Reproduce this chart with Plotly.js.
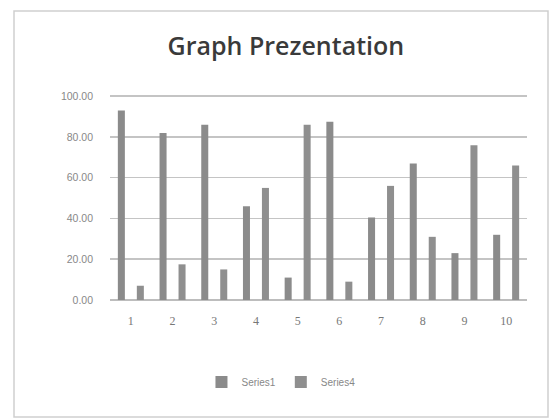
<!DOCTYPE html>
<html>
<head>
<meta charset="utf-8">
<script src="https://cdn.plot.ly/plotly-3.0.1.min.js"></script>
<style>
html,body{margin:0;padding:0;background:#fff;}
#chart{width:554px;height:419px;}
</style>
</head>
<body>
<div id="chart"></div>
<script>
var categories = ["1","2","3","4","5","6","7","8","9","10"];
var series1 = [93, 82, 86, 46, 11, 87.5, 40.5, 67, 23, 32];
var series4 = [7, 17.5, 15, 55, 86, 9, 56, 31, 76, 66];
var yTicks = [0, 20, 40, 60, 80, 100];
var yTickLabels = ["0.00", "20.00", "40.00", "60.00", "80.00", "100.00"];

var traces = [
  {type: "bar", name: "Series1", x: categories, y: series1, marker: {color: "#8b8b8b"}},
  {type: "bar", name: "Series4", x: categories, y: series4, marker: {color: "#8f8f8f"}}
];

var layout = {
  width: 554, height: 419,
  margin: {l: 110, r: 27, t: 95, b: 119},
  paper_bgcolor: "#fff", plot_bgcolor: "#fff",
  barmode: "group", bargap: 0.09, bargroupgap: 0.63,
  title: {text: "Graph Prezentation", x: 0.516, xref: "container", xanchor: "center", y: 0.89, yref: "container", yanchor: "middle",
          font: {family: "Open Sans, sans-serif", size: 25, color: "#3a3a3a", weight: 600}},
  xaxis: {type: "category", showgrid: false, zeroline: false, showline: false, ticks: "",
          tickfont: {family: "Liberation Serif, serif", size: 12, color: "#777"}, ticklabelstandoff: 12},
  yaxis: {range: [0, 100.6], tickvals: yTicks, ticktext: yTickLabels, showgrid: true, gridcolor: "#c4c4c4", gridwidth: 1.5,
          zeroline: true, zerolinecolor: "#bdbdbd", zerolinewidth: 1.5, showline: false, ticks: "",
          tickfont: {family: "Liberation Sans, sans-serif", size: 10.5, color: "#888"}, ticklabelstandoff: 16},
  showlegend: true,
  legend: {orientation: "h", x: 0.41, xanchor: "center", y: -0.40, yanchor: "middle",
           font: {family: "Liberation Sans, sans-serif", size: 10, color: "#888"}, itemwidth: 30, traceorder: "normal"},
  shapes: [
    {type: "rect", xref: "paper", yref: "paper", x0: -96/417, x1: 438/417, y0: -117/205, y1: 289/205,
     line: {color: "#cfcfcf", width: 1.5}, fillcolor: "rgba(0,0,0,0)"}
  ]
};

Plotly.newPlot("chart", traces, layout, {displayModeBar: false, staticPlot: true});
</script>
</body>
</html>
